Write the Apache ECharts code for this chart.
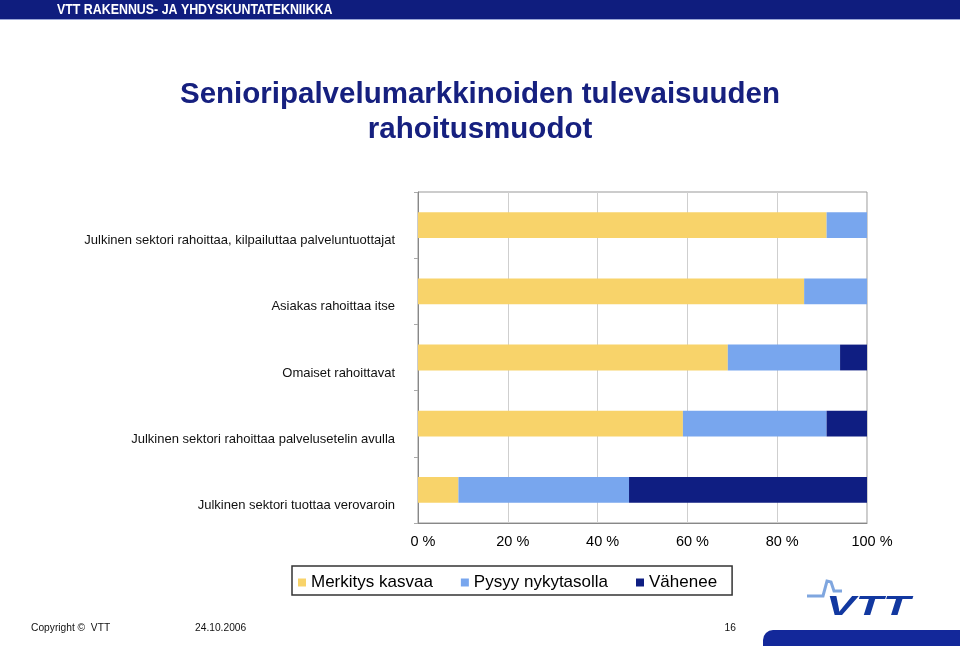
<!DOCTYPE html>
<html>
<head>
<meta charset="utf-8">
<script src="https://cdn.jsdelivr.net/npm/echarts@6/dist/echarts.min.js"></script>
<style>html,body{margin:0;padding:0;background:#fff}#c{width:960px;height:648px}</style>
</head>
<body>
<div id="c"></div>
<script>
const categories = [
  'Julkinen sektori rahoittaa, kilpailuttaa palveluntuottajat',
  'Asiakas rahoittaa itse',
  'Omaiset rahoittavat',
  'Julkinen sektori rahoittaa palvelusetelin avulla',
  'Julkinen sektori tuottaa verovaroin'
];
const seriesNames = ['Merkitys kasvaa', 'Pysyy nykytasolla', 'Vähenee'];
const kasvaa = [91, 86, 69, 59, 9];
const pysyy = [9, 14, 25, 32, 38];
const vahenee = [0, 0, 6, 9, 53];
const xTicks = [0, 20, 40, 60, 80, 100];

const colors = ['#F8D36A', '#78A6EE', '#0F1E82'];
const chart = echarts.init(document.getElementById('c'));
const font = '"Liberation Sans", Arial, sans-serif';
const mk = (name, data, i) => ({
  name, type: 'bar', stack: 'total', data, barWidth: '39%',
  itemStyle: { color: colors[i] }, emphasis: { disabled: true }
});
chart.setOption({
  animation: false,
  textStyle: { fontFamily: font },
  grid: { left: 418, top: 192, width: 449, height: 331, show: true, borderColor: '#999', borderWidth: 1 },
  xAxis: {
    type: 'value', min: xTicks[0], max: xTicks[xTicks.length - 1], interval: 20,
    axisLine: { show: true, lineStyle: { color: '#888' } },
    axisTick: { show: false },
    splitLine: { show: true, lineStyle: { color: '#cfcfcf' } },
    axisLabel: {
      formatter: v => '{a|' + v + ' %}', margin: 11,
      rich: { a: { fontSize: 14.5, color: '#000', fontFamily: font, padding: [0, 0, 0, 10] } }
    }
  },
  yAxis: {
    type: 'category', data: categories, inverse: true,
    axisLine: { show: true, lineStyle: { color: '#888' } },
    axisTick: { show: true, length: 4, lineStyle: { color: '#aaa' } },
    axisLabel: { fontSize: 13, color: '#111', margin: 23, verticalAlign: 'top', lineHeight: 31, fontFamily: font }
  },
  legend: {
    data: seriesNames, left: 292, top: 566,
    padding: [8, 15, 4, 6], itemGap: 28, itemWidth: 8, itemHeight: 8, icon: 'rect',
    borderColor: '#333', borderWidth: 1.5,
    textStyle: { fontSize: 17, color: '#000', fontFamily: font },
    itemStyle: { borderWidth: 0 }
  },
  series: [mk(seriesNames[0], kasvaa, 0), mk(seriesNames[1], pysyy, 1), mk(seriesNames[2], vahenee, 2)],
  graphic: [
    { type: 'rect', left: 0, top: 0, shape: { width: 960, height: 19 }, style: { fill: '#0F1D7E' } },
    { type: 'rect', left: 0, top: 19, shape: { width: 960, height: 1 }, style: { fill: '#9aa6d6' } },
    { type: 'text', x: 57, y: 10, scaleX: 0.885, style: { text: 'VTT RAKENNUS- JA YHDYSKUNTATEKNIIKKA', fill: '#fff', font: 'bold 14px "Liberation Sans", Arial', textVerticalAlign: 'middle' } },
    { type: 'text', x: 480, y: 95, style: { text: 'Senioripalvelumarkkinoiden tulevaisuuden', fill: '#16207F', font: 'bold 29.5px "Liberation Sans", Arial', textAlign: 'center', textVerticalAlign: 'middle' } },
    { type: 'text', x: 480, y: 130, style: { text: 'rahoitusmuodot', fill: '#16207F', font: 'bold 29.5px "Liberation Sans", Arial', textAlign: 'center', textVerticalAlign: 'middle' } },
    { type: 'text', x: 31, y: 628, scaleX: 0.93, style: { text: 'Copyright \u00A9  VTT', fill: '#111', font: '11px "Liberation Sans", Arial', textVerticalAlign: 'middle' } },
    { type: 'text', x: 195, y: 628, scaleX: 0.93, style: { text: '24.10.2006', fill: '#111', font: '11px "Liberation Sans", Arial', textVerticalAlign: 'middle' } },
    { type: 'text', x: 736, y: 628, scaleX: 0.93, style: { text: '16', fill: '#111', font: '11px "Liberation Sans", Arial', textAlign: 'right', textVerticalAlign: 'middle' } },
    { type: 'rect', shape: { x: 763, y: 630, width: 210, height: 16, r: [10, 0, 0, 0] }, style: { fill: '#13289A' } },
    { type: 'polyline', shape: { points: [[807, 596], [823, 596], [827, 581], [831, 582], [834, 591], [842, 591]] }, style: { stroke: '#7FA6DF', lineWidth: 3, fill: null } },
    { type: 'text', x: 826, y: 608, scaleX: 1.65, style: { text: 'VTT', fill: '#1238A0', font: 'italic bold 27px "Liberation Sans", Arial', textVerticalAlign: 'middle' } }
  ]
});
</script>
</body>
</html>
